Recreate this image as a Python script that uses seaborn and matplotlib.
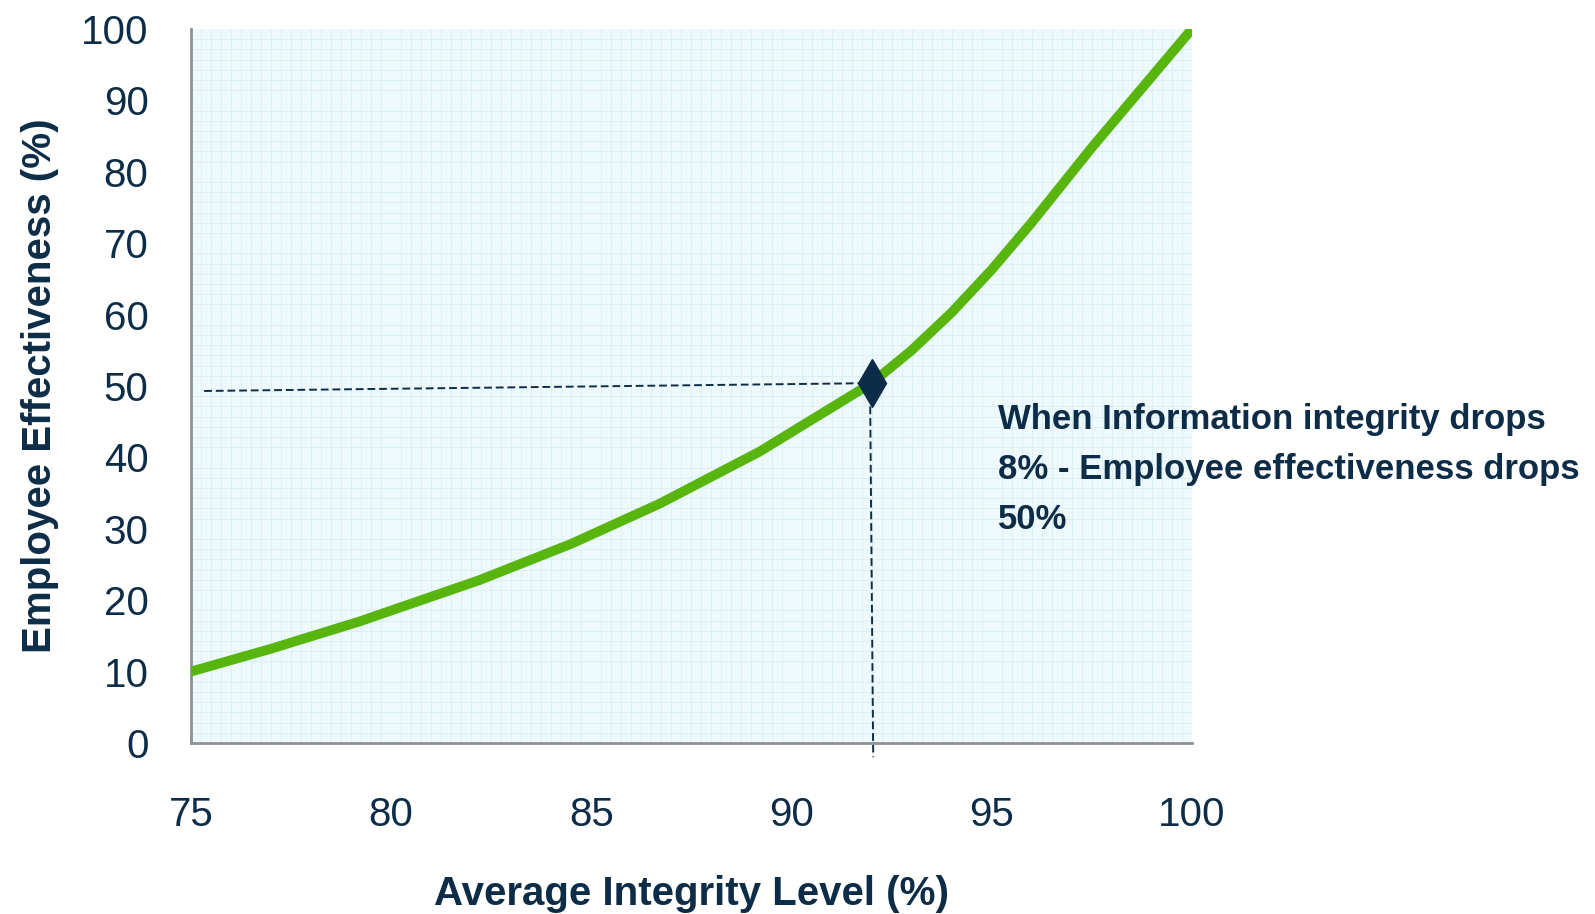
import numpy as np
import pandas as pd
import matplotlib
import matplotlib.pyplot as plt
from matplotlib.ticker import MultipleLocator
from matplotlib import font_manager
import seaborn as sns

matplotlib.use("Agg")

# ── Data ──────────────────────────────────────────────────────────────────────
integrity = [75, 77, 79.2, 82.2, 84.5, 86.7, 89.2, 92, 93, 94, 95, 96, 97.5, 100]
effectiveness = [10, 13.2, 17.0, 22.8, 27.9, 33.5, 40.8, 50.4, 55.0, 60.3, 66.3, 72.9, 83.4, 100]

marker_x = 92
marker_y = 50.4
guide_h_x = [75.33, 92]
guide_h_y = [49.3, 50.4]
guide_v_x = [91.96, 92.04]
guide_v_y = [50.4, -2.0]

x_ticks = [75, 80, 85, 90, 95, 100]
y_ticks = [0, 10, 20, 30, 40, 50, 60, 70, 80, 90, 100]

note = "When Information integrity drops\n8% - Employee effectiveness drops\n50%"

# ── Style ─────────────────────────────────────────────────────────────────────
NAVY = "#0d2c47"
GREEN = "#58b50e"
GREY = "#8c9196"

sns.set_style("white")
installed = {f.name for f in font_manager.fontManager.ttflist}
fams = [f for f in ["Liberation Sans Narrow", "Liberation Sans", "DejaVu Sans"] if f in installed]
plt.rcParams["font.family"] = fams

df = pd.DataFrame({"x": integrity, "y": effectiveness})

fig = plt.figure(figsize=(15.95, 9.14), dpi=100)
ax = fig.add_axes([0.1197, 0.1871, 0.6276, 0.7812])
ax.set_facecolor("#eef9fc")

sns.lineplot(data=df, x="x", y="y", ax=ax, color=GREEN, linewidth=7,
             solid_capstyle="butt", solid_joinstyle="round", zorder=3)

# dashed guide lines to the marked point
ax.plot(guide_h_x, guide_h_y, ls=(0, (4, 2)), lw=1.4, color=NAVY, zorder=2)
ax.plot(guide_v_x, guide_v_y, ls=(0, (4, 2)), lw=1.4, color=NAVY, zorder=2,
        clip_on=False)
ax.plot([marker_x], [marker_y], marker="d", ms=24, color=NAVY, zorder=4)

ax.set_xlim(75, 100)
ax.set_ylim(0, 100)
ax.set_xticks(x_ticks)
ax.set_yticks(y_ticks)

# faint graph-paper grid
ax.xaxis.set_minor_locator(MultipleLocator(0.25))
ax.yaxis.set_minor_locator(MultipleLocator(10 / 7))
ax.grid(which="minor", color="#d9f1f6", linewidth=0.7)
ax.grid(which="major", visible=False)
ax.tick_params(which="minor", length=0)
ax.set_axisbelow(True)

for side in ["top", "right"]:
    ax.spines[side].set_visible(False)
for side in ["left", "bottom"]:
    ax.spines[side].set_color(GREY)
    ax.spines[side].set_linewidth(2)

ax.tick_params(axis="both", which="major", colors=GREY, labelcolor=NAVY,
               width=2, labelsize=29)
ax.tick_params(axis="x", length=10.5, pad=28)
ax.tick_params(axis="y", length=11.5, pad=19)

ax.set_xlabel("Average Integrity Level (%)", fontsize=29, fontweight="bold",
              color=NAVY, labelpad=29)
ax.set_ylabel("Employee Effectiveness (%)", fontsize=29, fontweight="bold",
              color=NAVY, labelpad=16)

fig.text(0.6254, 0.559, note, fontsize=25, fontweight="bold", color=NAVY,
         va="top", ha="left", linespacing=1.66)

fig.savefig("out.png", dpi=100)
